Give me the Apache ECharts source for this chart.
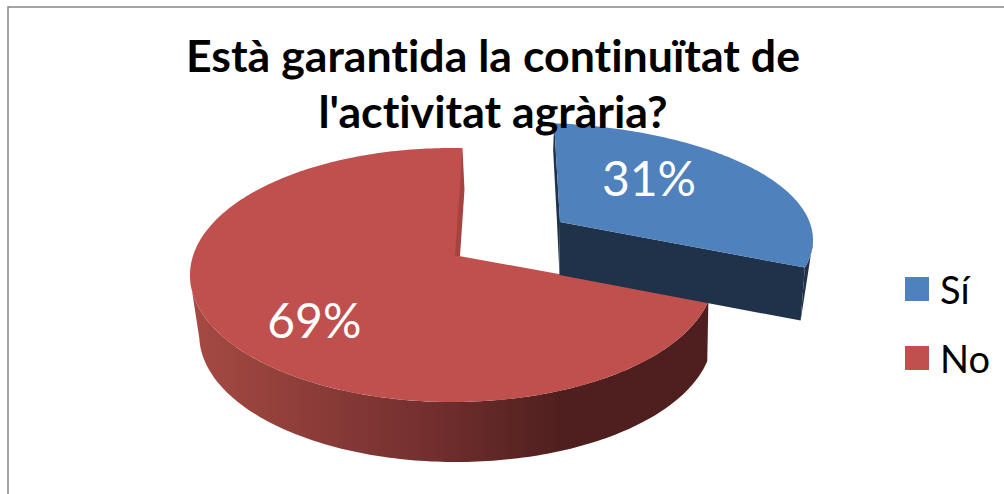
<!DOCTYPE html>
<html>
<head>
<meta charset="utf-8">
<style>
  html, body { margin: 0; padding: 0; background: #fff; }
  #chart { width: 1004px; height: 494px; font-variant-ligatures: none; }
  #chart text { font-variant-ligatures: none; }
</style>
<script src="https://cdn.jsdelivr.net/npm/echarts@6/dist/echarts.min.js"></script>
</head>
<body>
<div id="chart"></div>
<script>
var titleText = "Està garantida la continuïtat de\nl'activitat agrària?";
var categories = ['Sí', 'No'];
var percentValues = [31, 69];

// tilted disc of each slice (the exploded one has its own ellipse)
var discs = [
  { cx: 523, cy: 240, rx: 290, ry: 117.5, apex: [560, 222], sx: 0.985, lowerDx: 0, dy: 53, trim: [-0.8, 2.8], wallFrom: 100, top: '#4f81bd', wall: '#1f3249', labelR: 0.5, labelShift: [-18, -16] },
  { cx: 452, cy: 275, rx: 262, ry: 127, apex: [459, 256], sx: 0.98, lowerDx: 4, dy: 60, trim: [-1, 1], wallTo: 260, top: '#c0504d', labelR: 0.7, labelShift: [17, 11] }
];

// circle -> ellipse through a projective map, so the pie centre lands on the apex
function project(d, deg, r) {
  var t = deg * Math.PI / 180;
  var px = r * Math.sin(t), py = -r * Math.cos(t);
  var ax = (d.apex[0] - d.cx) / d.rx, ay = (d.apex[1] - d.cy) / d.ry;
  var a2 = ax * ax + ay * ay;
  var dot = ax * px + ay * py;
  var s = Math.sqrt(1 - a2);
  var parX = dot / a2 * ax, parY = dot / a2 * ay;
  var qx = (parX + ax + s * (px - parX)) / (1 + dot);
  var qy = (parY + ay + s * (py - parY)) / (1 + dot);
  return [d.cx + d.rx * qx, d.cy + d.ry * qy];
}
function lower(d, p) {
  return [d.cx + (p[0] - d.cx) * d.sx + d.lowerDx, p[1] + d.dy];
}
function arc(d, from, to) {
  var pts = [];
  var n = Math.ceil(Math.abs(to - from));
  for (var i = 0; i <= n; i++) pts.push(project(d, from + (to - from) * i / n, 1));
  return pts;
}
function poly(points, fill, z2) {
  return { type: 'polygon', z2: z2, shape: { points: points }, style: { fill: fill } };
}

function sliceAngles(i) {
  var total = percentValues.reduce(function (a, b) { return a + b; }, 0);
  var before = 0;
  for (var k = 0; k < i; k++) before += percentValues[k];
  return [before / total * 360, (before + percentValues[i]) / total * 360];
}

function renderSlice(i) {
  var d = discs[i];
  var ang = sliceAngles(i);
  ang = [ang[0] + d.trim[0], ang[1] + d.trim[1]];
  var topArc = arc(d, ang[0], ang[1]);
  var first = topArc[0], last = topArc[topArc.length - 1];
  var kids = [];
  if (i === 0) {
    // outer rim, cut face in front, thin sliver on the left
    kids.push(poly(arc(d, d.wallFrom, ang[1]).concat([lower(d, last)]), d.wall, 1));
    kids.push(poly([d.apex, last, lower(d, last), lower(d, d.apex)], d.wall, 2));
    kids.push(poly([first, d.apex, lower(d, d.apex), [d.apex[0] - 3, d.apex[1]], [first[0] - 1, first[1] + 27]], d.wall, 2));
  } else {
    var wall = arc(d, ang[0], d.wallTo);
    kids.push(poly(wall.concat(wall.map(function (p) { return lower(d, p); }).reverse()),
      new echarts.graphic.LinearGradient(0, 0, 1, 0, [
        { offset: 0, color: '#a64a43' },
        { offset: 0.45, color: '#74302f' },
        { offset: 0.72, color: '#4e1f1e' },
        { offset: 1, color: '#4e1f1e' }
      ]), 1));
  }
  kids.push(poly([d.apex].concat(topArc), d.top, 3));
  if (i === 1) {
    // back wall of the cut, seen as a narrow strip
    kids.push(poly([last, [last[0] + 2, last[1] + 42], [d.apex[0] + 1, d.apex[1]], [d.apex[0] - 4, d.apex[1]]], '#a5433f', 4));
  }
  var mid = project(d, (ang[0] + ang[1]) / 2, d.labelR);
  kids.push({
    type: 'text', z2: 5,
    style: {
      x: mid[0] + d.labelShift[0], y: mid[1] + d.labelShift[1],
      text: percentValues[i] + '%',
      fill: '#fff', font: '48px Lato, sans-serif', align: 'center', verticalAlign: 'middle'
    }
  });
  return { type: 'group', children: kids };
}

// svg renderer: the title has no ti ligature, and css can only turn it off on svg text
var chart = echarts.init(document.getElementById('chart'), null, { renderer: 'svg' });
chart.setOption({
  animation: false,
  backgroundColor: '#fff',
  title: {
    text: titleText,
    left: 493, top: 27, textAlign: 'center', padding: 0,
    textStyle: { fontFamily: 'Lato', fontWeight: 'bold', fontSize: 44.7, lineHeight: 56, color: '#000' }
  },
  legend: {
    orient: 'vertical', left: 900, top: 265,
    icon: 'rect', itemWidth: 24, itemHeight: 24, itemGap: 31,
    selectedMode: false,
    data: categories,
    textStyle: { fontFamily: 'Lato', fontSize: 38, color: '#000', padding: [0, 0, 3, 6] }
  },
  graphic: [
    { type: 'polyline', silent: true, shape: { points: [[8, 494], [8, 7], [1004, 7]] }, style: { stroke: '#868686', lineWidth: 1.5, fill: null } }
  ],
  series: categories.map(function (name, i) {
    return {
      type: 'custom',
      name: name,
      coordinateSystem: 'none',
      z: i === 0 ? 3 : 2,
      itemStyle: { color: discs[i].top },
      data: [percentValues[i]],
      renderItem: function () { return renderSlice(i); }
    };
  })
});
</script>
</body>
</html>
